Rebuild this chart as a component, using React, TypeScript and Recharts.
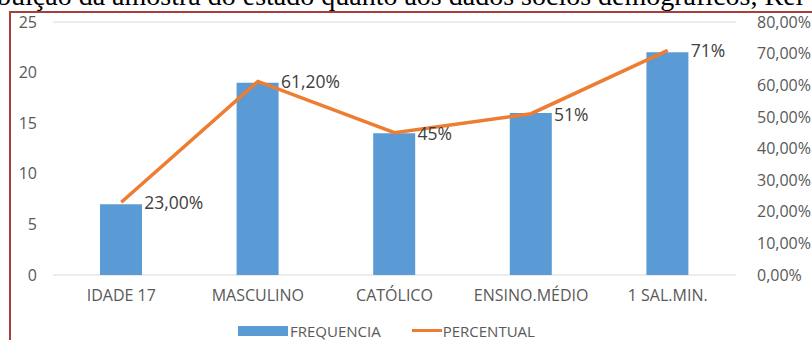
import React from 'react';
import { ComposedChart, Bar, Line, XAxis, YAxis, CartesianGrid, Legend, LabelList } from 'recharts';

const categories = ['IDADE 17', 'MASCULINO', 'CATÓLICO', 'ENSINO.MÉDIO', '1 SAL.MIN.'];
const frequencia = [7, 19, 14, 16, 22];
const percentual = [23, 61.2, 45, 51, 71];
const percentLabels = ['23,00%', '61,20%', '45%', '51%', '71%'];
const leftTicks = [0, 5, 10, 15, 20, 25];
const rightTicks = [0, 10, 20, 30, 40, 50, 60, 70, 80];
const captionText = 'buição da amostra do estado quanto aos dados socios demográficos, Rel';

const data = categories.map((c, i) => ({
  name: c,
  FREQUENCIA: frequencia[i],
  PERCENTUAL: percentual[i],
  label: percentLabels[i],
}));

const FONT = '"Open Sans", "Liberation Sans", sans-serif';
const BLUE = '#5B9BD5';
const ORANGE = '#ED7D31';
const TICK = { fill: '#595959', fontSize: 16, fontFamily: FONT };

const PointLabel = (props: any) => {
  const { x, y, value } = props;
  return (
    <text x={x + 23} y={y} dominantBaseline="central" fill="#404040" fontSize={17.5} fontFamily={FONT}>
      {value}
    </text>
  );
};

const LegendContent = () => (
  <div style={{ height: 30, paddingTop: 11, boxSizing: 'border-box', display: 'flex', alignItems: 'center', paddingLeft: 238, fontFamily: FONT, fontSize: 15, color: '#595959' }}>
    <span style={{ display: 'inline-block', width: 50, height: 10, background: BLUE }} />
    <span style={{ marginLeft: 2 }}>FREQUENCIA</span>
    <span style={{ display: 'inline-block', width: 30, height: 3, background: ORANGE, marginLeft: 31 }} />
    <span style={{ marginLeft: 1 }}>PERCENTUAL</span>
  </div>
);

export default function App() {
  return (
    <div style={{ position: 'fixed', left: 0, top: 0, width: 812, height: 340, overflow: 'hidden', background: '#fff' }}>
      <div style={{ position: 'absolute', left: -3, top: -18, whiteSpace: 'nowrap', fontFamily: '"Liberation Serif", serif', fontSize: 28, lineHeight: '28px', color: '#000' }}>
        {captionText}
      </div>
      <div style={{ position: 'absolute', left: 9, top: 11, width: 1000, height: 1000, borderTop: '2px solid #A6403F', borderLeft: '2px solid #A6403F' }} />
      <div style={{ position: 'absolute', left: 0, top: 0 }}>
        <ComposedChart width={812} height={340} data={data} margin={{ top: 22, right: 6, left: 8, bottom: 0 }}>
          <CartesianGrid vertical={false} stroke="#D9D9D9" />
          <XAxis dataKey="name" axisLine={false} tickLine={false} tickSize={0} tickMargin={15} height={35} tick={TICK} interval={0} />
          <YAxis yAxisId="left" domain={[0, 25]} ticks={leftTicks} axisLine={false} tickLine={false} tickSize={0} tickMargin={16} width={45} tick={TICK} />
          <YAxis yAxisId="right" orientation="right" domain={[0, 80]} ticks={rightTicks} axisLine={false} tickLine={false} tickSize={0} tickMargin={21} width={70} tick={TICK}
            tickFormatter={(v: number) => v.toFixed(2).replace('.', ',') + '%'} />
          <Legend verticalAlign="bottom" wrapperStyle={{ left: 0, width: 812 }} content={<LegendContent />} />
          <Bar yAxisId="left" dataKey="FREQUENCIA" fill={BLUE} barSize={42} isAnimationActive={false} />
          <Line yAxisId="right" dataKey="PERCENTUAL" type="linear" stroke={ORANGE} strokeWidth={3.5} dot={false} isAnimationActive={false}>
            <LabelList dataKey="label" content={<PointLabel />} />
          </Line>
        </ComposedChart>
      </div>
    </div>
  );
}
